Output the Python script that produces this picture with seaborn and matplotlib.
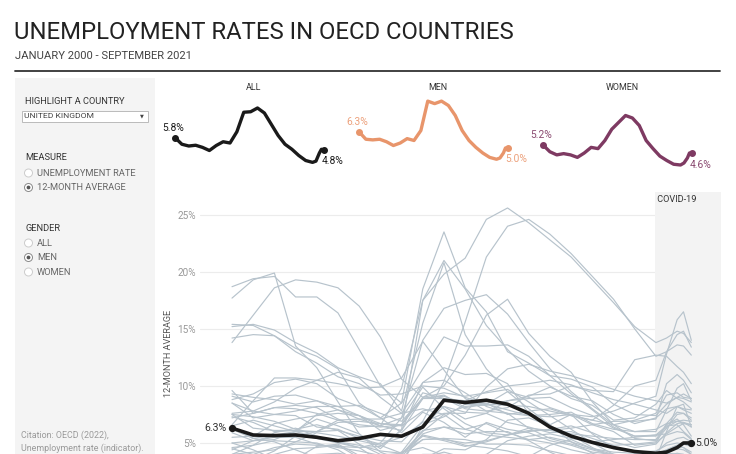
import matplotlib
matplotlib.use("Agg")
import matplotlib.pyplot as plt
import pandas as pd
import seaborn as sns
from matplotlib.patches import Rectangle, Circle
from matplotlib.lines import Line2D

# ---------------- data ----------------
YEARS = [2000, 2001, 2002, 2003, 2004, 2005, 2006, 2007, 2008, 2009,
         2010, 2011, 2012, 2013, 2014, 2015, 2016, 2017, 2018, 2019,
         2020.0, 2020.5, 2021.0, 2021.3, 2021.67]

uk_all = [5.83, 5.3, 5.16, 5.22, 5.05, 4.8, 5.2, 5.5, 5.4, 6.3, 7.86, 7.9, 8.2, 7.8, 6.9,
          6.0, 5.3, 4.9, 4.4, 4.0, 3.85, 3.95, 4.6, 4.9, 4.82]
uk_men = [6.3, 5.7, 5.65, 5.7, 5.5, 5.2, 5.4, 5.75, 5.6, 6.4, 8.75, 8.55, 8.75, 8.4, 7.6,
          6.4, 5.6, 5.05, 4.6, 4.25, 4.1, 4.2, 4.6, 5.0, 5.0]
uk_women = [5.24, 4.7, 4.45, 4.55, 4.45, 4.25, 4.6, 5.05, 4.95, 5.6, 6.5, 7.05, 7.6, 7.4, 6.8,
            5.6, 4.95, 4.35, 4.0, 3.7, 3.64, 3.8, 4.2, 4.6, 4.57]

esp = [9.6, 7.6, 8.1, 8.3, 8.1, 7.1, 6.4, 6.5, 9.8, 17.5, 19.8, 21.2, 24.6, 25.6, 24.3,
       22.8, 21.3, 19.3, 17.3, 15.2, 13.8, 14.2, 14.8, 14.6, 13.8]
grc = [7.5, 7.3, 6.9, 6.2, 6.6, 6.1, 5.6, 5.2, 5.1, 6.9, 10.4, 15.6, 21.3, 24.0, 24.6,
       23.3, 21.6, 19.6, 17.6, 15.0, 12.6, 13.0, 13.6, 13.5, 12.7]
svk = [18.7, 19.4, 19.6, 17.8, 17.8, 16.4, 13.2, 10.0, 8.5, 11.5, 14.3, 13.5, 13.5, 13.6, 12.6,
       10.9, 9.3, 7.9, 6.4, 5.6, 5.6, 6.4, 6.9, 7.0, 6.9]
ltu = [17.7, 19.3, 19.9, 13.5, 11.6, 8.6, 5.8, 4.5, 6.2, 17.5, 21.0, 18.5, 15.3, 13.2, 11.3,
       10.0, 8.9, 8.3, 7.0, 7.2, 8.4, 9.6, 8.9, 8.6, 8.0]
pol = [13.8, 16.2, 18.6, 19.3, 19.1, 18.6, 17.0, 14.3, 10.6, 9.0, 9.4, 9.1, 9.4, 9.7, 8.6,
       7.4, 6.2, 5.0, 4.0, 3.4, 3.2, 3.3, 3.6, 3.7, 3.5]
lva = [15.4, 15.3, 14.4, 13.3, 12.6, 11.5, 8.5, 7.2, 8.5, 18.5, 23.5, 18.6, 16.5, 13.0, 12.0,
       10.9, 10.6, 9.9, 8.4, 7.5, 7.4, 8.4, 9.0, 8.9, 8.6]
est = [15.2, 15.4, 14.9, 13.8, 12.9, 11.6, 10.8, 10.2, 7.8, 15.5, 20.8, 14.5, 11.5, 9.5, 8.0,
       6.6, 7.5, 6.6, 6.0, 4.8, 5.0, 6.7, 7.7, 7.6, 7.2]
col = [14.2, 14.5, 14.4, 13.0, 12.0, 10.8, 10.2, 9.2, 9.3, 10.0, 9.8, 9.0, 8.4, 7.9, 7.4,
       7.3, 7.5, 7.3, 7.8, 8.5, 9.1, 12.8, 15.8, 16.5, 14.0]
irl = [4.5, 4.0, 4.6, 4.9, 4.8, 4.7, 4.6, 5.0, 7.2, 14.0, 16.8, 17.5, 18.0, 16.3, 13.8,
       11.5, 9.5, 8.0, 6.6, 5.4, 5.2, 6.3, 7.5, 7.6, 7.0]
prt = [3.3, 3.5, 4.3, 5.6, 6.0, 6.8, 6.9, 6.7, 6.6, 9.0, 10.0, 12.7, 16.2, 17.6, 14.6,
       12.6, 11.2, 8.6, 6.6, 6.0, 6.2, 6.7, 6.9, 6.8, 6.6]
tur = [6.6, 8.7, 10.7, 10.7, 10.5, 10.2, 9.8, 9.9, 10.7, 13.9, 11.4, 8.9, 7.8, 8.1, 9.2,
       9.3, 10.0, 9.6, 9.5, 12.3, 12.7, 12.6, 11.7, 11.2, 10.2]
ita = [8.5, 7.8, 7.5, 7.4, 6.4, 6.2, 5.4, 4.9, 5.5, 6.8, 7.6, 7.6, 9.9, 11.5, 11.9,
       11.3, 10.9, 10.3, 9.7, 9.1, 8.7, 8.5, 9.0, 9.3, 8.9]
fra = [8.5, 7.2, 7.5, 7.8, 8.2, 8.2, 8.3, 7.6, 6.9, 8.9, 8.9, 8.7, 9.5, 10.0, 10.2,
       10.5, 10.1, 9.4, 8.8, 8.4, 7.9, 7.6, 8.2, 7.9, 7.6]
fin = [9.1, 8.6, 9.1, 9.2, 8.7, 8.2, 7.4, 6.5, 6.1, 8.9, 9.1, 8.4, 8.3, 8.7, 9.1,
       9.9, 9.1, 8.7, 7.5, 6.7, 7.2, 8.0, 8.2, 8.0, 7.9]
swe = [5.9, 5.2, 5.3, 6.0, 7.5, 7.9, 7.4, 6.1, 6.6, 8.9, 9.2, 8.1, 8.4, 8.3, 8.2,
       7.8, 7.4, 7.0, 6.6, 7.0, 7.6, 9.2, 9.4, 9.0, 8.9]
can = [7.2, 7.6, 8.1, 8.0, 7.6, 7.0, 6.6, 6.4, 6.6, 9.4, 8.9, 8.0, 7.8, 7.6, 7.4,
       7.5, 7.7, 6.7, 6.2, 6.0, 6.0, 7.9, 9.8, 10.2, 8.7]
usa = [4.0, 4.8, 5.9, 6.3, 5.6, 5.1, 4.6, 4.7, 6.1, 10.3, 10.5, 9.4, 8.2, 7.6, 6.3,
       5.4, 4.9, 4.4, 3.9, 3.7, 3.6, 6.0, 8.2, 8.4, 6.4]
deu = [7.6, 7.8, 8.6, 9.8, 10.5, 11.2, 10.7, 9.0, 7.6, 8.0, 7.5, 6.2, 5.7, 5.5, 5.3,
       5.0, 4.4, 4.0, 3.7, 3.4, 3.6, 4.1, 4.0, 3.9, 3.8]
chl = [9.3, 9.0, 8.8, 8.4, 8.7, 7.9, 7.1, 6.5, 7.2, 9.9, 8.0, 6.7, 5.9, 5.7, 6.3,
       6.1, 6.3, 6.6, 6.9, 6.9, 7.1, 10.2, 11.0, 10.5, 9.4]
cri = [4.4, 5.2, 5.6, 5.8, 5.4, 5.0, 4.6, 3.4, 4.2, 6.6, 7.3, 8.4, 8.5, 7.5, 7.8,
       8.0, 7.4, 7.0, 8.3, 10.0, 10.5, 13.0, 14.5, 14.8, 13.4]
bel = [5.5, 5.6, 6.7, 7.1, 7.4, 7.6, 7.4, 6.7, 6.5, 7.8, 8.2, 7.1, 7.6, 8.7, 8.9,
       9.0, 8.1, 7.4, 6.3, 5.6, 5.7, 5.8, 6.4, 6.7, 6.6]
aus = [6.5, 7.0, 6.5, 6.0, 5.5, 5.1, 4.8, 4.3, 4.1, 5.7, 5.3, 5.0, 5.2, 5.7, 6.1,
       6.1, 5.8, 5.6, 5.4, 5.3, 5.3, 6.6, 7.1, 6.6, 5.6]
aut = [4.6, 4.8, 5.2, 5.1, 5.9, 5.6, 5.2, 4.8, 4.1, 5.6, 5.2, 4.7, 5.1, 5.7, 6.0,
       6.2, 6.5, 5.9, 5.1, 4.6, 4.9, 5.9, 6.7, 6.8, 6.4]
dnk = [4.0, 4.2, 4.4, 5.1, 5.0, 4.4, 3.3, 3.4, 3.1, 6.5, 8.2, 7.7, 7.6, 6.8, 6.4,
       5.9, 6.0, 5.4, 4.8, 4.9, 5.1, 5.7, 6.0, 5.9, 5.3]
cze = [7.3, 6.8, 6.0, 6.1, 7.1, 6.5, 5.8, 4.2, 3.5, 5.8, 6.4, 5.8, 6.0, 6.0, 5.2,
       4.2, 3.4, 2.3, 1.9, 1.7, 1.8, 2.2, 2.6, 2.7, 2.6]
hun = [7.5, 6.3, 6.1, 6.1, 6.0, 7.0, 7.1, 7.1, 7.6, 10.3, 11.6, 11.0, 11.1, 10.2, 7.6,
       6.6, 5.1, 4.1, 3.6, 3.4, 3.7, 4.3, 4.5, 4.4, 4.0]
svn = [6.4, 5.4, 5.7, 6.0, 6.0, 6.1, 4.9, 4.0, 4.0, 6.0, 7.5, 8.2, 8.4, 9.5, 9.0,
       8.1, 7.5, 5.8, 4.5, 4.2, 4.3, 4.8, 5.0, 4.9, 4.7]
isr = [8.8, 9.3, 10.3, 10.6, 10.2, 8.9, 8.2, 7.2, 5.9, 7.7, 6.8, 5.5, 6.8, 6.2, 5.9,
       5.2, 4.8, 4.2, 4.0, 3.8, 3.9, 4.4, 4.8, 4.9, 4.9]
nzl = [6.2, 5.4, 5.1, 4.4, 3.7, 3.5, 3.7, 3.5, 4.0, 6.1, 6.4, 6.2, 6.7, 5.9, 5.3,
       5.5, 5.1, 4.5, 4.2, 4.1, 4.0, 4.4, 4.8, 4.6, 4.0]
nld = [2.3, 1.8, 2.5, 3.6, 4.7, 4.9, 3.9, 3.3, 2.8, 3.6, 4.5, 4.4, 5.3, 7.0, 7.2,
       6.5, 5.7, 4.6, 3.7, 3.3, 3.4, 3.9, 4.1, 4.0, 3.6]
jpn = [5.0, 5.2, 5.5, 5.5, 4.9, 4.6, 4.3, 3.9, 4.1, 5.3, 5.4, 4.8, 4.6, 4.3, 3.8,
       3.6, 3.3, 3.0, 2.6, 2.5, 2.6, 3.1, 3.1, 3.0, 3.0]
kor = [5.0, 4.4, 3.6, 3.8, 4.0, 4.1, 3.8, 3.6, 3.6, 4.0, 4.0, 3.6, 3.4, 3.3, 3.7,
       3.8, 3.9, 3.9, 4.0, 3.9, 3.9, 4.1, 4.0, 4.0, 3.8]
nor = [3.6, 3.8, 4.0, 4.5, 4.6, 4.8, 3.7, 2.7, 2.8, 3.7, 4.2, 3.7, 3.6, 3.8, 3.8,
       4.8, 5.3, 4.5, 4.0, 3.9, 4.2, 5.0, 5.4, 5.5, 5.1]
mex = [2.6, 2.5, 2.9, 3.3, 3.6, 3.5, 3.4, 3.6, 3.9, 5.3, 5.4, 5.3, 4.9, 4.9, 4.8,
       4.3, 3.9, 3.4, 3.3, 3.5, 3.5, 4.3, 4.7, 4.6, 4.2]
lux = [1.8, 1.7, 2.3, 3.0, 3.6, 3.5, 3.6, 3.4, 4.2, 4.6, 3.9, 3.8, 4.0, 5.2, 5.6,
       5.8, 5.4, 5.1, 5.3, 5.5, 5.7, 6.5, 6.6, 6.0, 5.4]

OTHERS = {
    "ESP": esp, "GRC": grc, "SVK": svk, "LTU": ltu, "POL": pol, "LVA": lva, "EST": est,
    "COL": col, "IRL": irl, "PRT": prt, "TUR": tur, "ITA": ita, "FRA": fra, "FIN": fin,
    "SWE": swe, "CAN": can, "USA": usa, "DEU": deu, "CHL": chl, "CRI": cri, "BEL": bel,
    "AUS": aus, "AUT": aut, "DNK": dnk, "CZE": cze, "HUN": hun, "SVN": svn, "ISR": isr,
    "NZL": nzl, "NLD": nld, "JPN": jpn, "KOR": kor, "NOR": nor, "MEX": mex, "LUX": lux,
}

Y_TICKS = [5, 10, 15, 20, 25]
COVID_START = 2019.95

# ---------------- style ----------------
sns.set_theme(style="white")
FONT = ['Roboto', 'DejaVu Sans']
plt.rcParams['font.family'] = FONT

GREY = '#b7c3cc'
BLACK = '#1a1a1a'
MEN_C = '#e8956b'
WOMEN_C = '#7e3a62'
TXT = '#333333'
MUTED = '#666666'

W, H = 736, 454
fig = plt.figure(figsize=(W / 100, H / 100), dpi=100)
fig.patch.set_facecolor('white')


def rect(x0, y0, x1, y1):
    return [x0 / W, 1 - y1 / H, (x1 - x0) / W, (y1 - y0) / H]


def ft(x, y, s, **kw):
    kw.setdefault('va', 'center')
    return fig.text(x / W, 1 - y / H, s, **kw)


def circ(x, y, r, **kw):
    # circle given in pixel units (inches = px / 100)
    return Circle((x / 100, (H - y) / 100), r / 100, transform=fig.dpi_scale_trans, **kw)


# ---------------- header ----------------
ft(14, 32.5, "UNEMPLOYMENT RATES IN OECD COUNTRIES", fontsize=17.2, color='#222222')
ft(15, 56, "JANUARY 2000 - SEPTEMBER 2021", fontsize=8.1, color='#444444')
fig.add_artist(Line2D([15 / W, 720 / W], [1 - 71 / H] * 2, color='#333333', lw=1.3))

# ---------------- left panel ----------------
fig.add_artist(Rectangle((15 / W, 0), 140 / W, (454 - 78) / H, transform=fig.transFigure,
                         facecolor='#f4f4f4', edgecolor='none', zorder=0))
ft(25, 101, "HIGHLIGHT A COUNTRY", fontsize=6.7, color=TXT)
fig.add_artist(Rectangle((21.5 / W, 1 - 122 / H), 126 / W, 11 / H, transform=fig.transFigure,
                         facecolor='white', edgecolor='#bbbbbb', lw=0.7, zorder=1))
ft(24, 116.3, "UNITED KINGDOM", fontsize=6.1, color='#444444')
ft(141.5, 116, "▼", fontsize=3.6, color='#444444', ha='center', family='DejaVu Sans')

ft(25, 158, "MEASURE", fontsize=6.7, color=TXT)
ft(25, 228.5, "GENDER", fontsize=6.7, color=TXT)

radio_items = [(173, "UNEMPLOYMENT RATE", False), (187.5, "12-MONTH AVERAGE", True),
               (243, "ALL", False), (257.5, "MEN", True), (272, "WOMEN", False)]
for y, label, sel in radio_items:
    fig.add_artist(circ(28.5, y, 4.0, facecolor='white',
                        edgecolor='#8a8a8a' if sel else '#cccccc', lw=0.7, zorder=2))
    ft(37, y + 0.3, label, fontsize=6.7, color=MUTED)
    if sel:
        fig.add_artist(circ(28.5, y, 1.9, facecolor='#555555', edgecolor='none', zorder=3))

ft(21, 435, "Citation: OECD (2022),", fontsize=6.4, color='#9a9a9a')
ft(21, 448, "Unemployment rate (indicator).", fontsize=6.4, color='#9a9a9a')

# ---------------- sparklines ----------------
SPARK_YLIM = (3.24, 9.24)
sparks = [
    ("ALL", uk_all, BLACK, BLACK, 175, 254),
    ("MEN", uk_men, MEN_C, '#eca17c', 359, 438),
    ("WOMEN", uk_women, WOMEN_C, '#8a4a70', 543, 622),
]
for title, vals, color, lab_c, x0, title_x in sparks:
    sax = fig.add_axes(rect(x0, 95, x0 + 149, 170))
    sns.lineplot(x=YEARS, y=vals, color=color, lw=2.4, ax=sax, legend=False)
    sax.scatter([YEARS[0], YEARS[-1]], [vals[0], vals[-1]], s=16, color=color,
                zorder=3, clip_on=False)
    for ln in sax.lines:
        ln.set_clip_on(False)
        ln.set_solid_capstyle('round')
        ln.set_solid_joinstyle('round')
    sax.set_xlim(YEARS[0], YEARS[-1])
    sax.set_ylim(*SPARK_YLIM)
    sax.axis('off')
    ft(title_x, 87.5, title, fontsize=6.4, color=TXT, ha='center')
    sax.annotate(f"{vals[0]:.1f}%", (YEARS[0], vals[0]), xytext=(-1.5, 3.5),
                 textcoords='offset points', ha='center', va='bottom',
                 fontsize=7.4, color=lab_c)
    sax.annotate(f"{vals[-1]:.1f}%", (YEARS[-1], vals[-1]), xytext=(-2, -4.5),
                 textcoords='offset points', ha='left', va='top',
                 fontsize=7.4, color=lab_c)

# ---------------- main chart ----------------
ax = fig.add_axes(rect(200, 192, 721, 454))
ax.set_facecolor('none')

rows = []
for code, vals in OTHERS.items():
    for yr, v in zip(YEARS, vals):
        rows.append((code, yr, v))
df = pd.DataFrame(rows, columns=['country', 'year', 'rate'])

ax.axvspan(COVID_START, 2030, color='#f3f3f3', zorder=0.6, lw=0)
sns.lineplot(data=df, x='year', y='rate', units='country', estimator=None,
             color=GREY, lw=0.85, ax=ax, legend=False, zorder=2)
sns.lineplot(x=YEARS, y=uk_men, color=BLACK, lw=2.6, ax=ax, legend=False, zorder=4)
ax.scatter([YEARS[0], YEARS[-1]], [uk_men[0], uk_men[-1]], s=18, color=BLACK, zorder=5)
for ln in ax.lines:
    ln.set_solid_joinstyle('round')

ax.set_xlim(1998.49, 2023.07)
ax.set_ylim(4.035, 27.0)
ax.set_yticks(Y_TICKS)
ax.set_yticklabels([f"{t}%" for t in Y_TICKS])
ax.tick_params(axis='y', length=0, pad=3, labelsize=7.2, labelcolor='#999999')
ax.set_xticks([])
ax.grid(axis='y', color='#ececec', lw=0.8)
ax.set_axisbelow(True)
for s in ax.spines.values():
    s.set_visible(False)
ax.set_xlabel('')
ax.set_ylabel('')

ax.annotate(f"{uk_men[0]:.1f}%", (YEARS[0], uk_men[0]), xytext=(-4, 0),
            textcoords='offset points', ha='right', va='center', fontsize=7.6, color=TXT)
ax.annotate(f"{uk_men[-1]:.1f}%", (YEARS[-1], uk_men[-1]), xytext=(3, 0),
            textcoords='offset points', ha='left', va='center', fontsize=7.6, color=TXT,
            annotation_clip=False)
ax.text(COVID_START, 26.3, " COVID-19", fontsize=6.6, color=TXT, va='center', ha='left')

ft(168.5, 353, "12-MONTH AVERAGE", fontsize=6.6, color='#555555', rotation=90, ha='center')

fig.savefig("out.png", dpi=100, facecolor='white')
